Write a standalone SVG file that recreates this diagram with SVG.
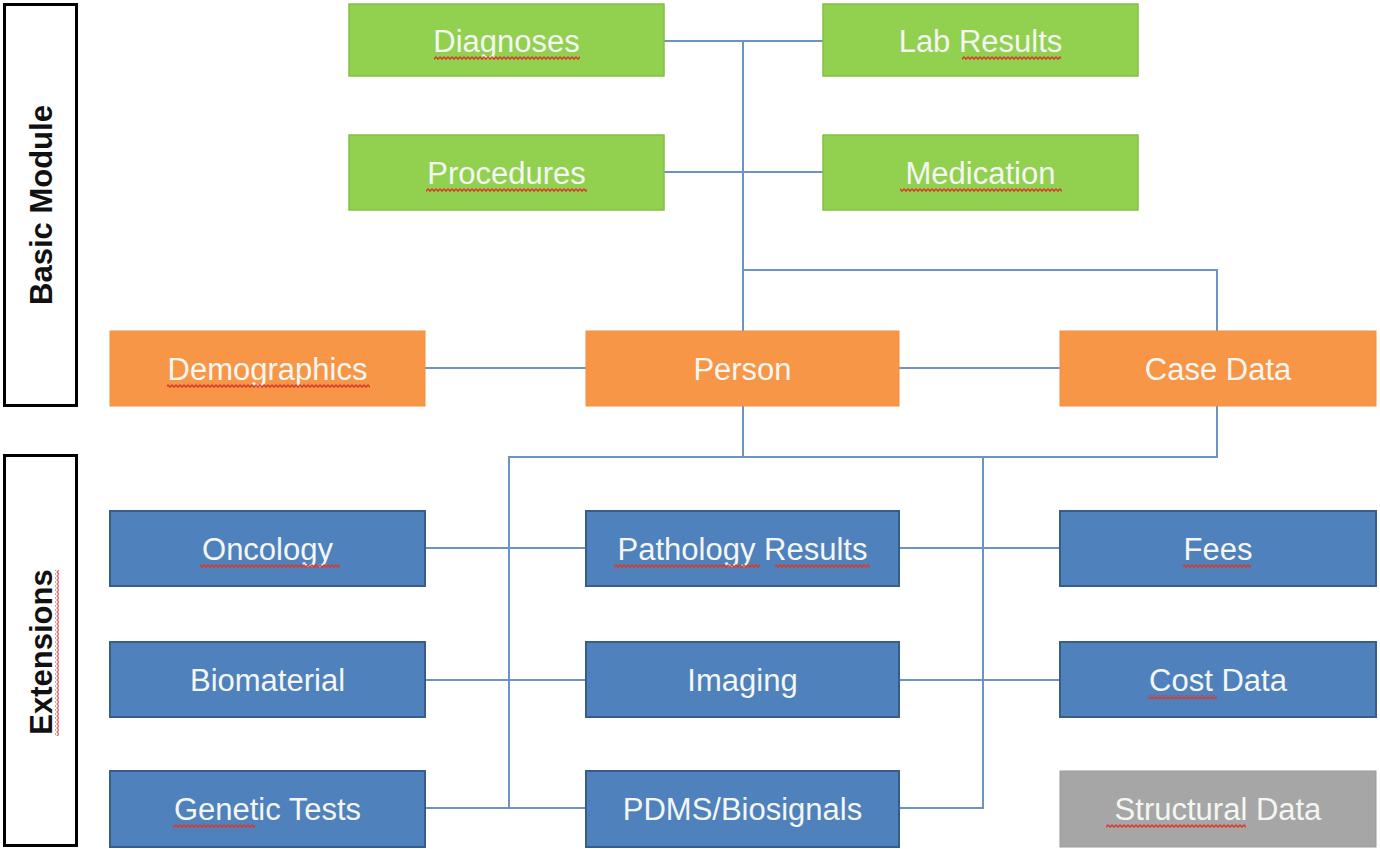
<svg xmlns="http://www.w3.org/2000/svg" width="1380" height="849" viewBox="0 0 1380 849">
<style>
.g{fill:#92d050;stroke:#84c040;stroke-width:1.5}
.o{fill:#f79646;stroke:#f3903f;stroke-width:1}
.b{fill:#4f81bd;stroke:#385d8a;stroke-width:2}
.s{fill:#a6a6a6;stroke:#9a9a9a;stroke-width:1}
.lbl{fill:#ffffff;stroke:#000000;stroke-width:3}
.t{font-family:"Liberation Sans",Arial,sans-serif;font-size:31px;fill:#f4f6f2;text-anchor:middle}
.side{font-family:"Liberation Sans",Arial,sans-serif;font-size:31px;font-weight:bold;fill:#111111;text-anchor:middle}
.c{fill:none;stroke:#6d93c6;stroke-width:2}
.sq{fill:url(#wave)}
</style>
<defs>
<pattern id="wave" patternUnits="userSpaceOnUse" width="4" height="4">
<polyline points="0,0.8 2,3.2 4,0.8" fill="none" stroke="#d93a2a" stroke-width="1.4"/>
</pattern>
<pattern id="wavev" patternUnits="userSpaceOnUse" width="4" height="4">
<polyline points="0.8,0 3.2,2 0.8,4" fill="none" stroke="#e86060" stroke-width="1.3"/>
</pattern>
</defs>
<g id="connectors">
<path class="c" d="M664,41 H823"/>
<path class="c" d="M664,172 H823"/>
<path class="c" d="M743,41 V331"/>
<path class="c" d="M743,270 H1217 V331"/>
<path class="c" d="M425,368 H586"/>
<path class="c" d="M899,368 H1060"/>
<path class="c" d="M743,406 V457"/>
<path class="c" d="M1217,406 V457 H509 V808"/>
<path class="c" d="M983,457 V808 H899"/>
<path class="c" d="M425,808 H586"/>
<path class="c" d="M425,548 H586"/>
<path class="c" d="M899,548 H1060"/>
<path class="c" d="M425,680 H586"/>
<path class="c" d="M899,680 H1060"/>
</g>
<g id="basic-module">
<rect class="lbl" x="4.5" y="4.5" width="72" height="401"/>
<text class="side" transform="translate(52,205) rotate(-90)">Basic Module</text>
</g>
<g id="extensions">
<rect class="lbl" x="4.5" y="455.5" width="72" height="390"/>
<text class="side" transform="translate(52,652) rotate(-90)">Extensions</text>
<rect x="55" y="570" width="4" height="166" fill="url(#wavev)"/>
</g>
<g id="diagnoses">
<rect class="g" x="349" y="4" width="315" height="72"/>
<text class="t" x="506.5" y="52">Diagnoses</text>
<rect class="sq" x="434" y="56" width="146" height="4"/>
</g>
<g id="lab-results">
<rect class="g" x="823" y="4" width="315" height="72"/>
<text class="t" x="980.5" y="52">Lab Results</text>
<rect class="sq" x="962" y="56" width="99" height="4"/>
</g>
<g id="procedures">
<rect class="g" x="349" y="135" width="315" height="75"/>
<text class="t" x="506.5" y="184">Procedures</text>
<rect class="sq" x="426" y="188" width="161" height="4"/>
</g>
<g id="medication">
<rect class="g" x="823" y="135" width="315" height="75"/>
<text class="t" x="980.5" y="184">Medication</text>
<rect class="sq" x="900" y="188" width="162" height="4"/>
</g>
<g id="demographics">
<rect class="o" x="110" y="331" width="315" height="75"/>
<text class="t" x="267.5" y="380">Demographics</text>
<rect class="sq" x="167" y="384" width="203" height="4"/>
</g>
<g id="person">
<rect class="o" x="586" y="331" width="313" height="75"/>
<text class="t" x="742.5" y="380">Person</text>
</g>
<g id="case-data">
<rect class="o" x="1060" y="331" width="316" height="75"/>
<text class="t" x="1218" y="380">Case Data</text>
</g>
<g id="oncology">
<rect class="b" x="110" y="511" width="315" height="75"/>
<text class="t" x="267.5" y="560">Oncology</text>
<rect class="sq" x="200" y="564" width="140" height="4"/>
</g>
<g id="pathology-results">
<rect class="b" x="586" y="511" width="313" height="75"/>
<text class="t" x="742.5" y="560">Pathology Results</text>
<rect class="sq" x="614" y="564" width="146" height="4"/>
<rect class="sq" x="775" y="564" width="95" height="4"/>
</g>
<g id="fees">
<rect class="b" x="1060" y="511" width="316" height="75"/>
<text class="t" x="1218" y="560">Fees</text>
<rect class="sq" x="1183" y="564" width="68" height="4"/>
</g>
<g id="biomaterial">
<rect class="b" x="110" y="642" width="315" height="75"/>
<text class="t" x="267.5" y="691">Biomaterial</text>
</g>
<g id="imaging">
<rect class="b" x="586" y="642" width="313" height="75"/>
<text class="t" x="742.5" y="691">Imaging</text>
</g>
<g id="cost-data">
<rect class="b" x="1060" y="642" width="316" height="75"/>
<text class="t" x="1218" y="691">Cost Data</text>
<rect class="sq" x="1148" y="695" width="69" height="4"/>
</g>
<g id="genetic-tests">
<rect class="b" x="110" y="771" width="315" height="76"/>
<text class="t" x="267.5" y="820">Genetic Tests</text>
<rect class="sq" x="173" y="824" width="82" height="4"/>
</g>
<g id="pdms-biosignals">
<rect class="b" x="586" y="771" width="313" height="76"/>
<text class="t" x="742.5" y="820">PDMS/Biosignals</text>
</g>
<g id="structural-data">
<rect class="s" x="1060" y="771" width="316" height="76"/>
<text class="t" x="1218" y="820">Structural Data</text>
<rect class="sq" x="1106" y="824" width="140" height="4"/>
</g>
</svg>
